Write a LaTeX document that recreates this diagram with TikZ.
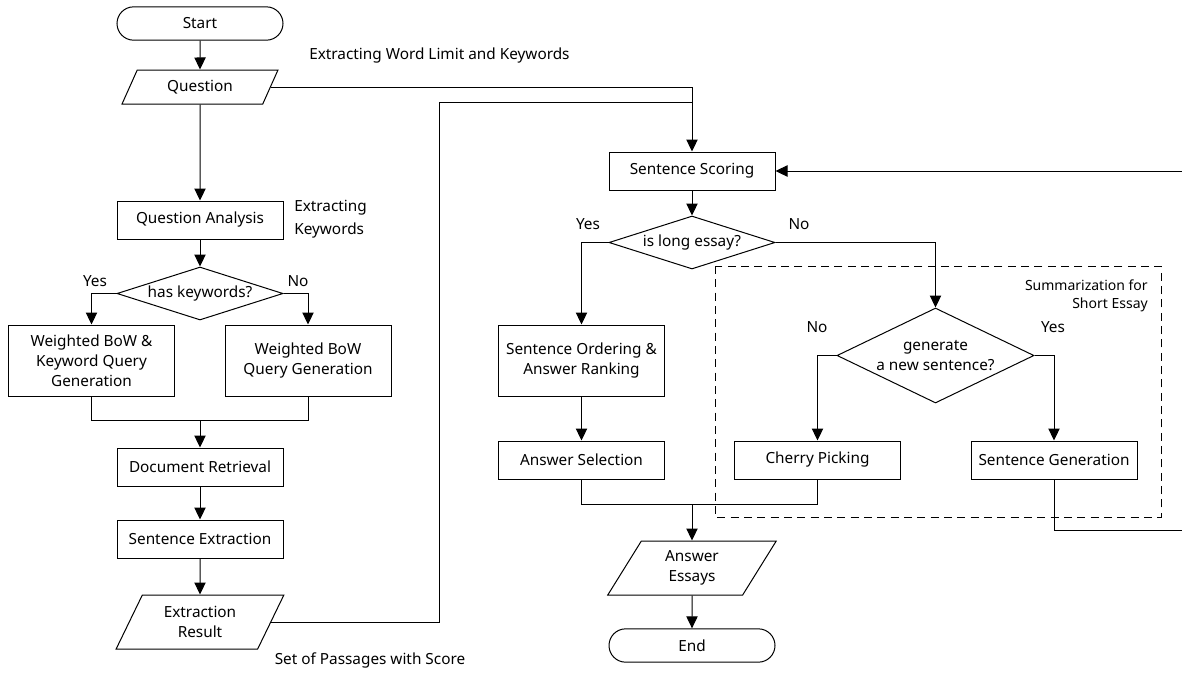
\documentclass[tikz,border=0pt]{standalone}
\usepackage{fontspec}
\setmainfont{Noto Sans}
\usetikzlibrary{arrows.meta,shapes.geometric,positioning,calc}
\tikzstyle{base}=[draw,line width=0.75pt,inner sep=1pt,align=center,font=\fontsize{11.5}{15}\selectfont]
\tikzstyle{proc}=[base,rectangle,minimum width=124.5pt,minimum height=28.5pt]
\tikzstyle{tallproc}=[proc,minimum height=53.25pt]
\tikzstyle{term}=[base,rectangle,rounded corners=12.5pt,minimum width=124.5pt,minimum height=25pt]
\tikzstyle{decide}=[base,diamond,aspect=3.13,inner sep=0pt,minimum width=124.5pt,minimum height=39.75pt]
\tikzstyle{io}=[base,trapezium,trapezium left angle=63.43,trapezium right angle=116.57,trapezium stretches=true,minimum width=117.75pt,minimum height=25.5pt]
\tikzstyle{tag}=[inner sep=0pt,font=\fontsize{11.5}{15}\selectfont]
\tikzstyle{flow}=[line width=0.75pt,-{Triangle[length=9pt,width=8.5pt]}]
\tikzstyle{wire}=[line width=0.75pt]

\begin{document}
\begin{tikzpicture}[x=0.75pt,y=-0.75pt]
\useasboundingbox (0,0) rectangle (1182,672);
% left column
\node [term] (start) at (200,23.5) {Start};
\node [io] (question) at (200,87) {Question};
\node [proc] (qanalysis) at (200,220) {Question Analysis};
\node [decide] (haskw) at (200,293.5) {has keywords?};
\node [tallproc] (wbkq) at (91.5,360.5) {Weighted BoW \&\\Keyword Query\\Generation};
\node [tallproc] (wbq) at (308,360.5) {Weighted BoW\\Query Generation};
\node [proc] (docret) at (200,467) {Document Retrieval};
\node [proc] (sentext) at (200,539) {Sentence Extraction};
\node [io,minimum width=126pt,minimum height=40.5pt] (extres) at (200,622) {Extraction\\Result};
% right part
\node [proc] (sscore) at (692,171) {Sentence Scoring};
\node [decide] (islong) at (692,242.5) {is long essay?};
\node [tallproc] (soar) at (581.5,360.5) {Sentence Ordering \&\\Answer Ranking};
\node [proc] (anssel) at (581.5,460) {Answer Selection};
\node [decide,aspect=2.07,minimum width=147.75pt,minimum height=71.25pt] (gennew) at (935.5,355.5) {generate\\a new sentence?};
\node [proc] (cherry) at (817.5,460) {Cherry Picking};
\node [proc] (sgen) at (1054,460) {Sentence Generation};
\node [io,minimum width=126.75pt,minimum height=40.5pt] (essays) at (692,568) {Answer\\Essays};
\node [term] (theend) at (692,645.5) {End};
% dashed group
\draw [wire,dash pattern=on 6pt off 4pt] (715,266) rectangle (1161,517);
\node [tag,align=right,anchor=north east,font=\fontsize{10.5}{13}\selectfont] (sumlbl) at (1148,280) {Summarization for\\Short Essay};
% labels
\node [tag,anchor=west] (wlkw) at (309,56) {Extracting Word Limit and Keywords};
\node [tag,anchor=west,align=left] (extkw) at (294,219) {Extracting\\[2pt]Keywords};
\node [tag] (passlbl) at (370,660) {Set of Passages with Score};
\node [tag] (y1) at (95,281) {Yes};
\node [tag] (n1) at (298,281) {No};
\node [tag] (y2) at (588,224) {Yes};
\node [tag] (n2) at (799,224) {No};
\node [tag] (n3) at (817,327) {No};
\node [tag] (y3) at (1053,327) {Yes};
% junctions
\coordinate (j1) at (200,420);
\coordinate (j2) at (692,504);
\coordinate (pbend) at (439,102);
\coordinate (fb) at (1185,530);
% connectors
\draw [flow] (start) -- (question);
\draw [flow] (question) -- (qanalysis);
\draw [flow] (qanalysis) -- (haskw);
\draw [flow] (haskw.west) -| (wbkq.north);
\draw [flow] (haskw.east) -| (wbq.north);
\draw [wire] (wbkq.south) |- (j1);
\draw [wire] (wbq.south) |- (j1);
\draw [flow] (j1) -- (docret);
\draw [flow] (docret) -- (sentext);
\draw [flow] (sentext) -- (extres);
\draw [flow] (question.east) -| (sscore.north);
\draw [wire] (extres.east) -| (pbend) -- (pbend -| sscore.north);
\draw [flow] (sscore) -- (islong);
\draw [flow] (islong.west) -| (soar.north);
\draw [flow] (islong.east) -| (gennew.north);
\draw [flow] (soar) -- (anssel);
\draw [flow] (gennew.west) -| (cherry.north);
\draw [flow] (gennew.east) -| (sgen.north);
\draw [wire] (anssel.south) |- (j2);
\draw [wire] (cherry.south) |- (j2);
\draw [flow] (j2) -- (essays);
\draw [flow] (essays) -- (theend);
\draw [flow] (sgen.south) |- (fb) |- (sscore.east);
\end{tikzpicture}
\end{document}
